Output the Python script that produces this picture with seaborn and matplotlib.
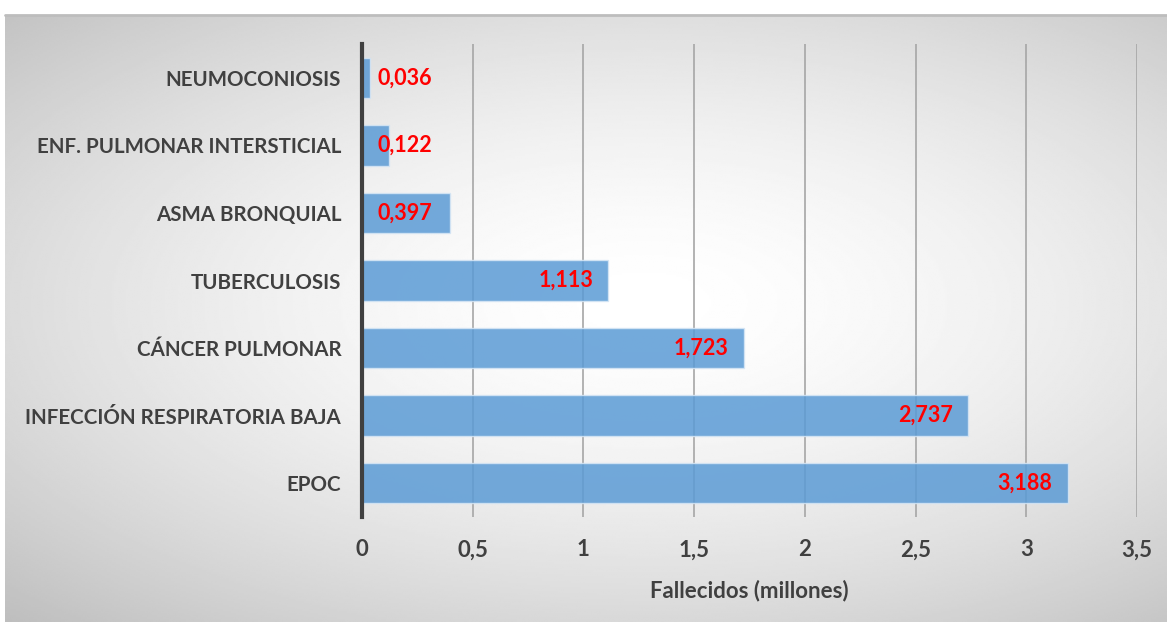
import numpy as np
import pandas as pd
import matplotlib
matplotlib.use("Agg")
import matplotlib.pyplot as plt
import seaborn as sns

# data
categories = ["NEUMOCONIOSIS", "ENF. PULMONAR INTERSTICIAL", "ASMA BRONQUIAL",
              "TUBERCULOSIS", "CÁNCER PULMONAR", "INFECCIÓN RESPIRATORIA BAJA", "EPOC"]
deaths = [0.036, 0.122, 0.397, 1.113, 1.723, 2.737, 3.188]
value_labels = ["0,036", "0,122", "0,397", "1,113", "1,723", "2,737", "3,188"]
x_ticks = [0, 0.5, 1, 1.5, 2, 2.5, 3, 3.5]
x_tick_labels = ["0", "0,5", "1", "1,5", "2", "2,5", "3", "3,5"]

sns.set_style("white")
plt.rcParams["font.family"] = ["Lato", "DejaVu Sans"]

W, H = 1167, 622
fig = plt.figure(figsize=(W / 100, H / 100), dpi=100)

# radial gradient background of the chart box
bg = fig.add_axes([5 / W, 0, (W - 5) / W, (H - 15) / H])
yy, xx = np.mgrid[-1:1:300j, -1:1:600j]
r = np.sqrt(((xx - 0.1) / 1.15) ** 2 + ((yy + 0.05) / 1.05) ** 2)
shade = 1 - 0.26 * np.clip(r, 0, 1.4) ** 1.6 / 1.4 ** 1.6
bg.imshow(shade, cmap="gray", vmin=0, vmax=1, aspect="auto",
          extent=[0, 1, 0, 1], interpolation="bilinear")
bg.set_axis_off()
fig.add_artist(plt.Line2D([5 / W, 1], [(H - 15) / H] * 2, color="#bdbdbd", lw=2))

df = pd.DataFrame({"cat": categories, "val": deaths})

ax = fig.add_axes([362 / W, (H - 517) / H, (1137 - 362) / W, (517 - 44) / H])
ax.patch.set_alpha(0)
sns.barplot(data=df, x="val", y="cat", orient="h", color="#5b9bd5", alpha=0.85,
            width=0.6, edgecolor="#d6e6f5", linewidth=1, saturation=1, ax=ax, zorder=3)

ax.set_xlim(0, 3.5)
ax.set_xticks(x_ticks)
ax.set_xticklabels(x_tick_labels, fontsize=16, fontweight="bold", color="#404040")
ax.tick_params(axis="x", length=0, pad=16)
ax.tick_params(axis="y", length=0, pad=15)
for lbl in ax.get_yticklabels():
    lbl.set_fontsize(14.8)
    lbl.set_fontweight("bold")
    lbl.set_color("#404040")
ax.set_ylabel("")
ax.set_xlabel("Fallecidos (millones)", fontsize=16, fontweight="bold",
              color="#404040", labelpad=14)

ax.grid(axis="x", color="#a6a6a6", lw=1.2, zorder=1)
ax.set_axisbelow(True)
for s in ["top", "right", "bottom"]:
    ax.spines[s].set_visible(False)
ax.spines["left"].set_color("#404040")
ax.spines["left"].set_linewidth(3)
ax.spines["left"].set_zorder(5)

# value labels: inside end, or at the base when the bar is too short
for i, (v, txt) in enumerate(zip(deaths, value_labels)):
    if v < 0.5:
        ax.annotate(txt, (0, i), xytext=(11, 0), textcoords="offset points",
                    ha="left", va="center", color="#ff0000", fontsize=15.5,
                    fontweight="bold", zorder=6)
    else:
        ax.annotate(txt, (v, i), xytext=(-11, 0), textcoords="offset points",
                    ha="right", va="center", color="#ff0000", fontsize=15.5,
                    fontweight="bold", zorder=6)

fig.savefig("out.png", dpi=100)
